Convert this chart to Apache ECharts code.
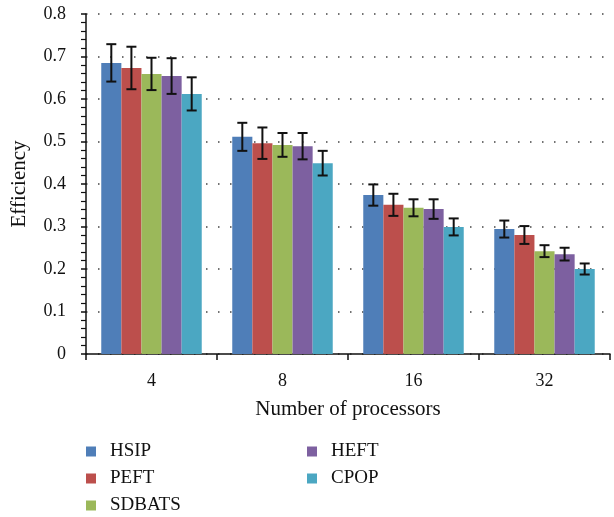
<!DOCTYPE html>
<html>
<head>
<meta charset="utf-8">
<script src="https://cdn.jsdelivr.net/npm/echarts@6/dist/echarts.min.js"></script>
<style>
  html, body { margin: 0; padding: 0; background: #fff; }
  #main { width: 614px; height: 517px; }
</style>
</head>
<body>
<div id="main"></div>
<script>
// data
var categories = ["4", "8", "16", "32"];
var seriesNames = ["HSIP", "PEFT", "SDBATS", "HEFT", "CPOP"];
var hsip = [0.685, 0.511, 0.374, 0.294];
var peft = [0.673, 0.496, 0.351, 0.280];
var sdbats = [0.659, 0.492, 0.344, 0.242];
var heft = [0.654, 0.489, 0.341, 0.235];
var cpop = [0.612, 0.449, 0.299, 0.200];
// half length of the error bars
var hsipErr = [0.044, 0.033, 0.025, 0.020];
var peftErr = [0.050, 0.037, 0.026, 0.021];
var sdbatsErr = [0.038, 0.028, 0.020, 0.014];
var heftErr = [0.042, 0.031, 0.023, 0.015];
var cpopErr = [0.039, 0.029, 0.020, 0.013];
var yTicks = [0, 0.1, 0.2, 0.3, 0.4, 0.5, 0.6, 0.7, 0.8];

var colors = ["#4F7EB8", "#BC4F4C", "#9BB85A", "#7D60A0", "#4BA7C2"];
var values = [hsip, peft, sdbats, heft, cpop];
var errors = [hsipErr, peftErr, sdbatsErr, heftErr, cpopErr];
var catGap = 0.233;
var font = "'Liberation Serif', 'Times New Roman', serif";

var chart = echarts.init(document.getElementById("main"));

var series = [];
values.forEach(function (vals, i) {
  series.push({
    name: seriesNames[i],
    type: "bar",
    barGap: "0%",
    barCategoryGap: catGap * 100 + "%",
    itemStyle: { color: colors[i] },
    data: vals
  });
});

// error bars
var errData = [];
values.forEach(function (vals, i) {
  vals.forEach(function (v, c) {
    errData.push([c, i, v - errors[i][c], v + errors[i][c]]);
  });
});
series.push({
  name: "err",
  type: "custom",
  z: 10,
  renderItem: function (params, api) {
    var c = api.value(0);
    var i = api.value(1);
    var lo = api.coord([c, api.value(2)]);
    var hi = api.coord([c, api.value(3)]);
    var band = api.size([1, 0])[0];
    var barW = band * (1 - catGap) / 5;
    var x = lo[0] + (i - 2) * barW;
    var half = 5;
    var st = { stroke: "#111", lineWidth: 2 };
    return {
      type: "group",
      children: [
        { type: "line", shape: { x1: x, y1: hi[1], x2: x, y2: lo[1] }, style: st },
        { type: "line", shape: { x1: x - half, y1: hi[1], x2: x + half, y2: hi[1] }, style: st },
        { type: "line", shape: { x1: x - half, y1: lo[1], x2: x + half, y2: lo[1] }, style: st }
      ]
    };
  },
  encode: { x: 0, y: [2, 3] },
  data: errData,
  silent: true
});

var legendText = { fontFamily: font, fontSize: 19, color: "#111", lineHeight: 19, padding: [0, 0, 0, 9] };

function makeLegend(names, left) {
  return {
    data: names,
    orient: "vertical",
    left: left,
    top: 442,
    height: 80,
    padding: 0,
    itemWidth: 10,
    itemHeight: 10,
    itemGap: 8,
    icon: "rect",
    textStyle: legendText
  };
}

var option = {
  animation: false,
  backgroundColor: "#fff",
  textStyle: { fontFamily: font },
  grid: { left: 86, right: 4, top: 14, bottom: 163 },
  legend: [makeLegend(seriesNames.slice(0, 3), 86), makeLegend(seriesNames.slice(3), 307)],
  xAxis: {
    type: "category",
    data: categories,
    name: "Number of processors",
    nameLocation: "middle",
    nameGap: 45,
    nameTextStyle: { fontFamily: font, fontSize: 21, color: "#111" },
    axisLine: { lineStyle: { color: "#111", width: 1.5 } },
    axisTick: { show: true, length: 6, lineStyle: { color: "#111", width: 1.5 } },
    axisLabel: { margin: 18, fontFamily: font, fontSize: 18, color: "#111" }
  },
  yAxis: {
    type: "value",
    min: yTicks[0],
    max: yTicks[yTicks.length - 1],
    interval: 0.1,
    name: "Efficiency",
    nameLocation: "middle",
    nameGap: 56,
    nameTextStyle: { fontFamily: font, fontSize: 21, color: "#111" },
    axisLine: { show: true, lineStyle: { color: "#111", width: 1.5 } },
    axisTick: { show: true, length: 5, lineStyle: { color: "#111", width: 1.5 } },
    minorTick: { show: true, splitNumber: 5, length: 5, lineStyle: { color: "#111", width: 1.2 } },
    axisLabel: {
      margin: 20,
      fontFamily: font,
      fontSize: 18,
      color: "#111",
      formatter: function (v) { return String(Math.round(v * 10) / 10); }
    },
    splitLine: { show: true, lineStyle: { color: "#444", width: 1.5, type: [1.5, 10.5] } }
  },
  series: series
};

chart.setOption(option);
</script>
</body>
</html>
